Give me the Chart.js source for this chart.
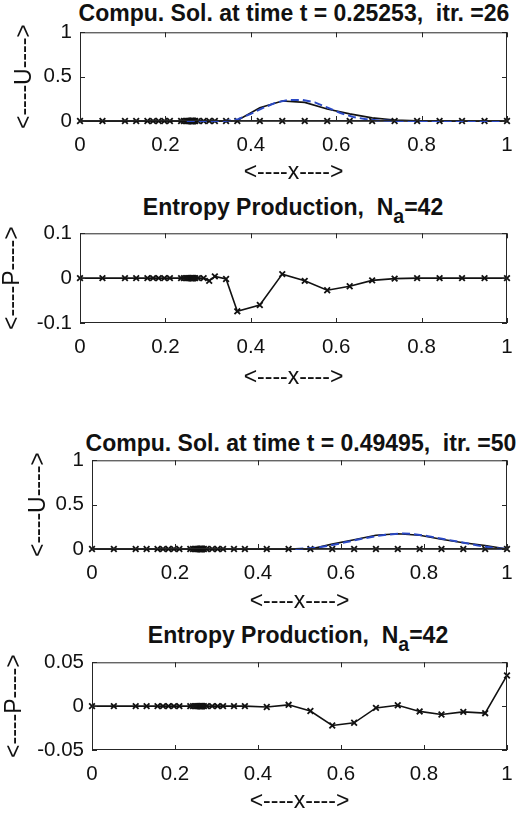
<!DOCTYPE html>
<html lang="en">
<head>
    <meta charset="UTF-8">
    <title>Compu. Sol. / Entropy Production</title>
    <script src="https://cdn.jsdelivr.net/npm/chart.js"></script>
    <style>
        body { margin: 0; background: #fff; width: 532px; height: 817px; position: relative; overflow: hidden;
               font-family: "Liberation Sans", Arial, Helvetica, sans-serif; color: #111; }
        canvas { position: absolute; left: 0; }
        .ttl { position: absolute; font-weight: bold; font-size: 23px; line-height: 24px; white-space: pre;
               transform: translateX(-50%); }
        .ttl sub { font-size: 0.85em; vertical-align: -0.4em; line-height: 0; }
    </style>
</head>
<body>
    <div class="ttl" style="left:294px; top:1px;">Compu. Sol. at time t = 0.25253,  itr. =26</div>
    <div class="ttl" style="left:293px; top:195px;">Entropy Production,  N<sub>a</sub>=42</div>
    <div class="ttl" style="left:301px; top:431px;">Compu. Sol. at time t = 0.49495,  itr. =50</div>
    <div class="ttl" style="left:298px; top:623px;">Entropy Production,  N<sub>a</sub>=42</div>

    <canvas id="c1" width="532" height="175"></canvas>
    <canvas id="c2" width="532" height="176"></canvas>
    <canvas id="c3" width="532" height="175"></canvas>
    <canvas id="c4" width="532" height="174"></canvas>

    <script>
        // tick labels
        const xTicks = [0, 0.2, 0.4, 0.6, 0.8, 1];
        const uTicks = [0, 0.5, 1];
        const pTicksA = [-0.1, 0, 0.1];
        const pTicksB = [-0.05, 0, 0.05];

        // adaptive mesh (42 nodes)
        const meshX = [0, 0.0526, 0.1053, 0.1316, 0.1579, 0.1711, 0.1842, 0.1974, 0.2105, 0.2368,
                       0.2434, 0.2500, 0.2533, 0.2566, 0.2582, 0.2599, 0.2607, 0.2615, 0.2623, 0.2632,
                       0.2640, 0.2648, 0.2664, 0.2697, 0.2763, 0.2895, 0.3026, 0.3158, 0.3421, 0.3684,
                       0.4211, 0.4737, 0.5263, 0.5789, 0.6316, 0.6842, 0.7368, 0.7895, 0.8421, 0.8947,
                       0.9474, 1.0];

        // t = 0.25253 : computed solution on the mesh
        const uComp1 = [0, 0, 0, 0, 0, 0, 0, 0, 0, 0,
                        0, 0, 0, 0, 0, 0, 0, 0, 0, 0,
                        0, 0, 0, 0, 0, 0, 0, 0, 0, 0.005,
                        0.15, 0.225, 0.21, 0.135, 0.08, 0.035, 0.012, 0.003, 0, 0,
                        0, 0];
        // t = 0.25253 : exact solution (dashed)
        const exX1 = [0.25, 0.34, 0.37, 0.40, 0.43, 0.46, 0.49, 0.52, 0.55, 0.58, 0.61, 0.64, 0.67, 0.70, 0.74, 1.0];
        const exU1 = [0, 0, 0.02, 0.08, 0.15, 0.21, 0.238, 0.238, 0.21, 0.15, 0.09, 0.045, 0.02, 0.007, 0, 0];
        // t = 0.25253 : entropy production
        const prod1 = [0, 0, 0, 0, 0, 0, 0, 0, 0, 0,
                       0, 0, 0, 0, 0, 0, 0, 0, 0, 0,
                       0, 0, 0, 0, 0, 0, -0.006, 0.004, -0.002, -0.074,
                       -0.06, 0.009, -0.006, -0.027, -0.018, -0.005, -0.001, 0, 0, 0,
                       0, 0];

        // t = 0.49495
        const uComp2 = [0, 0, 0, 0, 0, 0, 0, 0, 0, 0,
                        0, 0, 0, 0, 0, 0, 0, 0, 0, 0,
                        0, 0, 0, 0, 0, 0, 0, 0, 0, 0,
                        0, 0, 0, 0.055, 0.105, 0.155, 0.172, 0.155, 0.11, 0.07,
                        0.04, 0];
        const exX2 = [0.49, 0.53, 0.57, 0.61, 0.65, 0.69, 0.73, 0.75, 0.77, 0.81, 0.85, 0.89, 0.93, 0.97, 1.0];
        const exU2 = [0, 0.01, 0.035, 0.075, 0.115, 0.15, 0.17, 0.175, 0.17, 0.145, 0.11, 0.075, 0.04, 0.012, 0];
        const prod2 = [0, 0, 0, 0, 0, 0, 0, 0, 0, 0,
                       0, 0, 0, 0, 0, 0, 0, 0, 0, 0,
                       0, 0, 0, 0, 0, 0, 0, 0, 0, 0,
                       -0.001, 0.0015, -0.0055, -0.022, -0.019, -0.002, 0.001, -0.006, -0.0095, -0.0065,
                       -0.008, 0.035];

        const pts = (xs, ys) => xs.map((x, i) => ({ x: x, y: ys[i] }));
        const zeros = meshX.map(() => 0);

        // box with inward ticks, like matlab axes
        const boxPlugin = {
            id: 'box',
            afterDraw(chart) {
                const { ctx, chartArea: a, scales } = chart;
                const x = scales.x, y = scales.y;
                ctx.save();
                ctx.strokeStyle = '#262626';
                ctx.lineWidth = 1;
                ctx.strokeRect(a.left + 0.5, a.top + 0.5, a.right - a.left - 1, a.bottom - a.top - 1);
                ctx.beginPath();
                x.ticks.forEach(t => {
                    const px = Math.round(x.getPixelForValue(t.value)) + 0.5;
                    ctx.moveTo(px, a.bottom); ctx.lineTo(px, a.bottom - 5);
                    ctx.moveTo(px, a.top); ctx.lineTo(px, a.top + 5);
                });
                y.ticks.forEach(t => {
                    const py = Math.round(y.getPixelForValue(t.value)) + 0.5;
                    ctx.moveTo(a.left, py); ctx.lineTo(a.left + 5, py);
                    ctx.moveTo(a.right, py); ctx.lineTo(a.right - 5, py);
                });
                ctx.stroke();
                ctx.restore();
            }
        };

        const tickSize = 20.5, labelSize = 23;

        function makePanel(id, top, box, datasets, yTicks, yLabel, yTitleX, xTitleBelow) {
            const cv = document.getElementById(id);
            cv.style.top = top + 'px';
            const padTop = box.top - top;
            const boxH = box.bottom - box.top;
            const axisH = cv.height - padTop - boxH;
            const lh = labelSize * 1.2;
            new Chart(cv, {
                type: 'line',
                data: { datasets: datasets },
                plugins: [boxPlugin],
                options: {
                    responsive: false,
                    animation: false,
                    layout: { padding: { top: padTop, right: 532 - box.right, left: 0, bottom: 0 } },
                    plugins: { legend: { display: false }, tooltip: { enabled: false } },
                    scales: {
                        x: {
                            type: 'linear', min: 0, max: 1,
                            afterBuildTicks: s => { s.ticks = xTicks.map(v => ({ value: v })); },
                            afterFit: s => { s.height = axisH; },
                            grid: { display: false, drawTicks: false },
                            border: { display: false },
                            ticks: { color: '#111', font: { size: tickSize }, padding: 12, maxRotation: 0,
                                     callback: v => String(v) },
                            title: { display: true, text: '<----x---->', color: '#111', font: { size: labelSize },
                                     padding: { top: 0, bottom: axisH - xTitleBelow - lh / 2 } }
                        },
                        y: {
                            min: yTicks[0], max: yTicks[yTicks.length - 1],
                            afterBuildTicks: s => { s.ticks = yTicks.map(v => ({ value: v })); },
                            afterFit: s => { s.width = box.left; },
                            grid: { display: false, drawTicks: false },
                            border: { display: false },
                            ticks: { color: '#111', font: { size: tickSize }, padding: 8,
                                     callback: v => String(v) },
                            title: { display: true, text: yLabel, color: '#111', font: { size: labelSize },
                                     padding: { top: yTitleX - lh / 2, bottom: 0 } }
                        }
                    }
                }
            });
        }

        Chart.defaults.font.family = '"Liberation Sans", Arial, Helvetica, sans-serif';

        const solSets = (uComp, exX, exU) => [
            { data: pts(exX, exU), borderColor: '#2a48c4', borderWidth: 2, borderDash: [8, 4],
              pointRadius: 0, tension: 0, clip: false },
            { data: pts(meshX, uComp), borderColor: '#111', borderWidth: 1.6, pointRadius: 0,
              tension: 0, clip: false },
            { data: pts(meshX, zeros), borderColor: '#111', borderWidth: 1.6, pointStyle: 'crossRot',
              pointRadius: 4, pointBorderWidth: 1.8, pointBorderColor: '#111', tension: 0, clip: false }
        ];
        const prodSets = (prod) => [
            { data: pts(meshX, prod), borderColor: '#111', borderWidth: 1.6, pointStyle: 'crossRot',
              pointRadius: 4, pointBorderWidth: 1.8, pointBorderColor: '#111', tension: 0, clip: false }
        ];

        makePanel('c1', 12, { left: 80, right: 507, top: 32, bottom: 121 },
                  solSets(uComp1, exX1, exU1), uTicks, '<----U---->', 25, 52);
        makePanel('c2', 213, { left: 80, right: 507, top: 233, bottom: 323 },
                  prodSets(prod1), pTicksA, '<----P---->', 13, 55);
        makePanel('c3', 440, { left: 92, right: 507, top: 460, bottom: 549 },
                  solSets(uComp2, exX2, exU2), uTicks, '<----U---->', 39, 53);
        makePanel('c4', 642, { left: 92, right: 507, top: 662, bottom: 750 },
                  prodSets(prod2), pTicksB, '<----P---->', 15, 52);
    </script>
</body>
</html>
